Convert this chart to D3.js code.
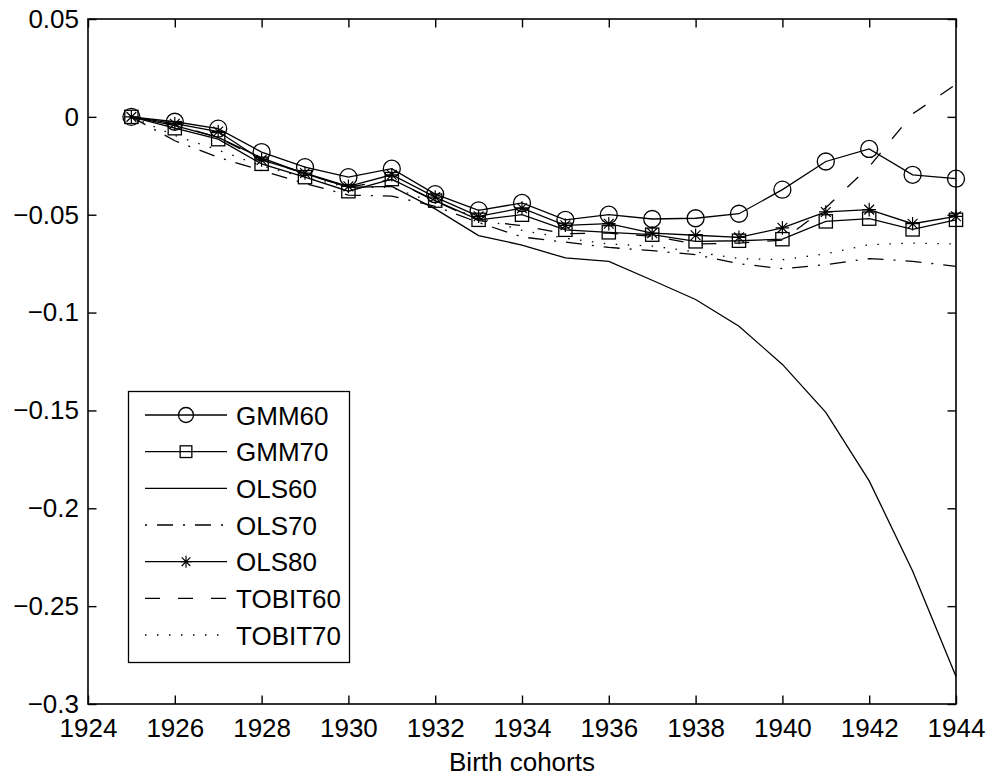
<!DOCTYPE html>
<html>
<head>
<meta charset="utf-8">
<script src="https://cdnjs.cloudflare.com/ajax/libs/d3/7.8.5/d3.min.js"></script>
<style>
  body { margin: 0; background: #fff; }
  svg { display: block; font-family: 'Liberation Sans', Arial, sans-serif; }
  .tick text { font-size: 26px; fill: #000; }
</style>
</head>
<body>
<script>
// cohorts and estimates
var years   = [1925, 1926, 1927, 1928, 1929, 1930, 1931, 1932, 1933, 1934,
               1935, 1936, 1937, 1938, 1939, 1940, 1941, 1942, 1943, 1944];
var gmm60   = [0, -0.0025, -0.006, -0.018, -0.0257, -0.0308, -0.0265, -0.0395, -0.0478, -0.044,
               -0.0526, -0.050, -0.0522, -0.0518, -0.0495, -0.0372, -0.0228, -0.0164, -0.0296, -0.0316];
var gmm70   = [0, -0.0058, -0.0114, -0.024, -0.0308, -0.038, -0.0318, -0.0428, -0.0526, -0.050,
               -0.0577, -0.059, -0.0602, -0.0636, -0.0633, -0.0625, -0.0534, -0.052, -0.0575, -0.0526];
var ols60   = [0, -0.0045, -0.0105, -0.021, -0.029, -0.036, -0.0355, -0.047, -0.0607, -0.0655,
               -0.0721, -0.0738, -0.0835, -0.0933, -0.107, -0.1265, -0.151, -0.186, -0.232, -0.286];
var ols70   = [0, -0.0122, -0.0207, -0.0274, -0.034, -0.040, -0.0405, -0.0457, -0.054, -0.0614,
               -0.064, -0.0667, -0.0684, -0.0704, -0.075, -0.0776, -0.0755, -0.0724, -0.0738, -0.0764];
var ols80   = [0, -0.0035, -0.0075, -0.022, -0.0287, -0.0355, -0.0296, -0.041, -0.0508, -0.0466,
               -0.0554, -0.0546, -0.0594, -0.0605, -0.0616, -0.0567, -0.0486, -0.0474, -0.0546, -0.0508];
var tobit60 = [0, -0.004, -0.0105, -0.022, -0.029, -0.036, -0.032, -0.043, -0.053, -0.0556,
               -0.0597, -0.0594, -0.061, -0.065, -0.0645, -0.063, -0.0464, -0.0255, 0.0015, 0.0166];
var tobit70 = [0, -0.0095, -0.017, -0.025, -0.031, -0.036, -0.036, -0.044, -0.0515, -0.058,
               -0.062, -0.065, -0.066, -0.069, -0.0724, -0.073, -0.070, -0.0653, -0.0645, -0.065];

var xTicks = [1924, 1926, 1928, 1930, 1932, 1934, 1936, 1938, 1940, 1942, 1944];
var yTicks = [0.05, 0, -0.05, -0.1, -0.15, -0.2, -0.25, -0.3];
var xLabel = "Birth cohorts";

var series = [
  {name: "GMM60",   values: gmm60,   dash: null,          marker: "circle"},
  {name: "GMM70",   values: gmm70,   dash: null,          marker: "square"},
  {name: "OLS60",   values: ols60,   dash: null,          marker: null},
  {name: "OLS70",   values: ols70,   dash: "16,10,2,10",  marker: null, off: 26},
  {name: "OLS80",   values: ols80,   dash: null,          marker: "star"},
  {name: "TOBIT60", values: tobit60, dash: "15,18",       marker: null},
  {name: "TOBIT70", values: tobit70, dash: "1.5,10.5",    marker: null}
];

var W = 993, H = 779;
var pL = 88, pR = 956, pT = 19, pB = 704;

var svg = d3.select("body").append("svg")
  .attr("width", W).attr("height", H);

var x = d3.scaleLinear().domain([1924, 1944]).range([pL, pR]);
var y = d3.scaleLinear().domain([-0.3, 0.05]).range([pB, pT]);

var fmtY = function(d) {
  var s = String(Math.abs(+d.toFixed(2)));
  return d < 0 ? "\u2212" + s : s;
};
var tk = 8.5;

svg.append("g").attr("transform", "translate(0," + pB + ")")
  .call(d3.axisBottom(x).tickValues(xTicks).tickFormat(d3.format("d"))
        .tickSizeInner(-tk).tickSizeOuter(0).tickPadding(14.5));
svg.append("g").attr("transform", "translate(0," + pT + ")")
  .call(d3.axisTop(x).tickValues(xTicks).tickFormat("")
        .tickSizeInner(-tk).tickSizeOuter(0));
svg.append("g").attr("transform", "translate(" + pL + ",0)")
  .call(d3.axisLeft(y).tickValues(yTicks).tickFormat(fmtY)
        .tickSizeInner(-tk).tickSizeOuter(0).tickPadding(9));
svg.append("g").attr("transform", "translate(" + pR + ",0)")
  .call(d3.axisRight(y).tickValues(yTicks).tickFormat("")
        .tickSizeInner(-tk).tickSizeOuter(0));

svg.selectAll(".domain").remove();
svg.selectAll(".tick line").attr("stroke", "#000").attr("stroke-width", 1.4);
svg.selectAll(".tick text").attr("font-family", "'Liberation Sans', Arial, sans-serif");

svg.append("rect")
  .attr("x", pL).attr("y", pT)
  .attr("width", pR - pL).attr("height", pB - pT)
  .attr("fill", "none").attr("stroke", "#000").attr("stroke-width", 1.6);

svg.append("text")
  .attr("x", (pL + pR) / 2).attr("y", 771)
  .attr("text-anchor", "middle")
  .style("font-size", "26px")
  .text(xLabel);

function drawMarker(g, type, cx, cy, s) {
  if (type === "circle") {
    g.append("circle").attr("cx", cx).attr("cy", cy).attr("r", s)
      .attr("fill", "none").attr("stroke", "#000").attr("stroke-width", 1.3);
  } else if (type === "square") {
    var h = s * 0.78;
    g.append("rect").attr("x", cx - h).attr("y", cy - h)
      .attr("width", 2 * h).attr("height", 2 * h)
      .attr("fill", "none").attr("stroke", "#000").attr("stroke-width", 1.3);
  } else if (type === "star") {
    var a = s * 0.8, b = a * 0.72;
    var p = "M" + (cx - a) + "," + cy + "H" + (cx + a) +
            "M" + cx + "," + (cy - a) + "V" + (cy + a) +
            "M" + (cx - b) + "," + (cy - b) + "L" + (cx + b) + "," + (cy + b) +
            "M" + (cx - b) + "," + (cy + b) + "L" + (cx + b) + "," + (cy - b);
    g.append("path").attr("d", p).attr("fill", "none")
      .attr("stroke", "#000").attr("stroke-width", 1.2);
  }
}

var line = d3.line()
  .x(function(d, i) { return x(years[i]); })
  .y(function(d) { return y(d); });

var plot = svg.append("g");
series.forEach(function(s) {
  plot.append("path")
    .attr("d", line(s.values))
    .attr("fill", "none")
    .attr("stroke", "#000")
    .attr("stroke-width", 1.3)
    .attr("stroke-dasharray", s.dash);
  if (s.marker) {
    s.values.forEach(function(v, i) {
      drawMarker(plot, s.marker, x(years[i]), y(v), 8.5);
    });
  }
});

// legend
var lg = svg.append("g");
lg.append("rect")
  .attr("x", 128.5).attr("y", 391.5)
  .attr("width", 221).attr("height", 271)
  .attr("fill", "#fff").attr("stroke", "#000").attr("stroke-width", 1.3);

var rowY = d3.scaleLinear().domain([0, series.length - 1]).range([415, 635]);
series.forEach(function(s, i) {
  var yy = rowY(i);
  lg.append("line")
    .attr("x1", 145).attr("x2", 227).attr("y1", yy).attr("y2", yy)
    .attr("stroke", "#000").attr("stroke-width", 1.3)
    .attr("stroke-dasharray", s.dash)
    .attr("stroke-dashoffset", s.off || 0);
  if (s.marker) drawMarker(lg, s.marker, 186, yy, 7.5);
  lg.append("text")
    .attr("x", 236).attr("y", yy + 9.5)
    .style("font-size", "26px")
    .text(s.name);
});
</script>
</body>
</html>
